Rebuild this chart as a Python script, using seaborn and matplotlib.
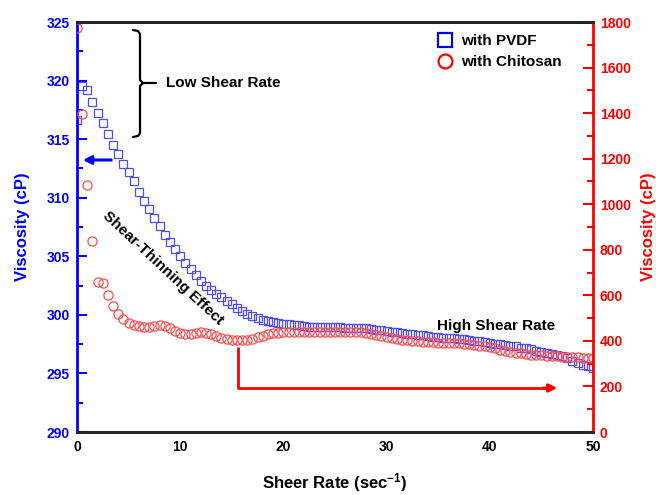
import numpy as np
import pandas as pd
import matplotlib
matplotlib.use("Agg")
import matplotlib.pyplot as plt
import seaborn as sns
from matplotlib.ticker import MultipleLocator, FuncFormatter
from matplotlib.lines import Line2D

sns.set_style("white")
plt.rcParams['font.family'] = ['Liberation Sans', 'DejaVu Sans']
plt.rcParams['text.color'] = 'black'
plt.rcParams['axes.labelcolor'] = 'black'
plt.rcParams['mathtext.fontset'] = 'custom'
plt.rcParams['mathtext.rm'] = 'Liberation Sans'
plt.rcParams['mathtext.bf'] = 'Liberation Sans:bold'
plt.rcParams['mathtext.default'] = 'bf'

shear_rate = np.arange(0, 50.5, 0.5)

pvdf = [316.6, 319.5, 319.2, 318.2, 317.2, 316.4, 315.4, 314.5, 313.7, 312.9,
        312.2, 311.4, 310.5, 309.7, 309.0, 308.3, 307.6, 306.8, 306.2, 305.6,
        305.0, 304.4, 303.9, 303.4, 302.9, 302.5, 302.1, 301.8, 301.5, 301.2,
        300.9, 300.6, 300.3, 300.1, 299.9, 299.75, 299.6, 299.5, 299.4, 299.3,
        299.25, 299.2, 299.15, 299.1, 299.05, 299.0, 299.0, 299.0, 299.0, 298.95,
        298.95, 298.95, 298.9, 298.9, 298.9, 298.9, 298.85, 298.8, 298.75, 298.7,
        298.6, 298.55, 298.5, 298.45, 298.4, 298.35, 298.3, 298.25, 298.2, 298.15,
        298.1, 298.05, 298.0, 298.0, 297.95, 297.9, 297.85, 297.8, 297.75, 297.7,
        297.6, 297.55, 297.5, 297.45, 297.35, 297.3, 297.2, 297.15, 297.05, 296.95,
        296.85, 296.75, 296.65, 296.55, 296.45, 296.3, 296.1, 295.9, 295.7, 295.6,
        295.5]

chitosan = [1775, 1396, 1084, 840, 660, 656, 601, 555, 518, 495,
            477, 470, 465, 462, 462, 467, 470, 467, 458, 445,
            436, 430, 429, 433, 438, 436, 430, 423, 414, 409,
            405, 402, 402, 405, 410, 416, 423, 430, 433, 436,
            438, 439, 440, 440, 440, 440, 440, 440, 440, 440,
            440, 440, 440, 440, 439, 437, 434, 430, 425, 420,
            416, 412, 409, 406, 403, 400, 398, 396, 394, 393,
            392, 392, 392, 391, 389, 387, 385, 382, 379, 376,
            372, 367, 362, 357, 353, 349, 346, 343, 340, 338,
            336, 334, 333, 332, 331, 330, 329, 328, 326, 325,
            323]

series_labels = ["with PVDF", "with Chitosan"]
x_label = "Sheer Rate (sec$^{-1}$)"
y_label = "Viscosity (cP)"

df = pd.DataFrame({"rate": shear_rate, "pvdf": pvdf, "chitosan": chitosan})

W, H = 656, 495
fig = plt.figure(figsize=(W / 100, H / 100), dpi=100)
L, R, T, B = 77, 593, 22, 432
ax = fig.add_axes([L / W, 1 - B / H, (R - L) / W, (B - T) / H])
ax2 = ax.twinx()

sns.lineplot(data=df, x="rate", y="pvdf", ax=ax, marker="s", linestyle="",
             markersize=5.6, markerfacecolor="none", markeredgecolor="#4d4dff",
             markeredgewidth=0.9, color="#4d4dff")
sns.lineplot(data=df, x="rate", y="chitosan", ax=ax2, marker="o", linestyle="",
             markersize=6.6, markerfacecolor="none", markeredgecolor="#ff4d4d",
             markeredgewidth=0.9, color="#ff4d4d")

ax.set_xlim(0, 50)
ax.set_ylim(290, 325)
ax2.set_ylim(0, 1800)

ax.xaxis.set_major_locator(MultipleLocator(5))
ax.xaxis.set_minor_locator(MultipleLocator(2.5))
ax.xaxis.set_major_formatter(FuncFormatter(lambda v, p: f"{int(round(v))}" if round(v) % 10 == 0 else ""))
ax.yaxis.set_major_locator(MultipleLocator(5))
ax.yaxis.set_minor_locator(MultipleLocator(2.5))
ax2.yaxis.set_major_locator(MultipleLocator(200))
ax2.yaxis.set_minor_locator(MultipleLocator(100))

lw = 2.0
for a in (ax, ax2):
    for s in a.spines.values():
        s.set_linewidth(lw)
        s.set_visible(True)
ax.spines['left'].set_color('blue')
ax.spines['right'].set_visible(False)
ax2.spines['left'].set_visible(False)
ax2.spines['right'].set_color('red')
ax.spines['top'].set_color('black')
ax.spines['bottom'].set_color('black')

ax.tick_params(axis='x', which='both', direction='in', colors='black', width=1.5, labelsize=10, pad=6)
ax.tick_params(axis='x', which='major', length=7)
ax.tick_params(axis='x', which='minor', length=4)
ax.tick_params(axis='y', which='both', direction='in', colors='blue', width=1.5, labelsize=10, pad=5)
ax.tick_params(axis='y', which='major', length=7)
ax.tick_params(axis='y', which='minor', length=4)
ax2.tick_params(axis='y', which='both', direction='in', colors='red', width=1.5, labelsize=10, pad=5)
ax2.tick_params(axis='y', which='major', length=7)
ax2.tick_params(axis='y', which='minor', length=4)
for lab in ax.get_xticklabels() + ax.get_yticklabels() + ax2.get_yticklabels():
    lab.set_fontweight('bold')

ax.set_xlabel(x_label, fontsize=12, fontweight='bold', color='black', labelpad=12)
ax.set_ylabel(y_label, fontsize=12, fontweight='bold', color='blue', labelpad=12)
ax2.set_ylabel(y_label, fontsize=12, fontweight='bold', color='red', labelpad=7)

# annotations in axes-fraction coordinates converted from figure pixels
def fx(px):
    return (px - L) / (R - L)

def fy(py):
    return (B - py) / (B - T)

tr = ax2.transAxes
bx = [133, 138, 140, 140, 143, 140, 140, 138, 133]
by = [30, 31, 34, 80, 83, 86, 133, 136, 137]
ax2.plot([fx(v) for v in bx], [fy(v) for v in by], transform=tr, color='black', lw=1.6, clip_on=False)
ax2.plot([fx(142), fx(156)], [fy(83), fy(83)], transform=tr, color='black', lw=1.6)
ax2.text(fx(166), fy(83), "Low Shear Rate", transform=tr, fontsize=11, fontweight='bold',
         ha='left', va='center')

ax2.annotate("", xy=(fx(80), fy(160)), xytext=(fx(114), fy(160)), xycoords=tr, textcoords=tr,
             arrowprops=dict(arrowstyle='-|>', color='blue', lw=2.2, mutation_scale=12))

ax2.text(fx(163), fy(268), "Shear-Thinning Effect", transform=tr, fontsize=11, fontweight='bold',
         ha='center', va='center', rotation=-43, rotation_mode='anchor')

ax2.plot([fx(238), fx(238), fx(548)], [fy(348), fy(388), fy(388)], transform=tr, color='red', lw=2.0)
ax2.annotate("", xy=(fx(560), fy(388)), xytext=(fx(540), fy(388)), xycoords=tr, textcoords=tr,
             arrowprops=dict(arrowstyle='-|>', color='red', lw=2.0, mutation_scale=12))

ax2.text(fx(496), fy(326), "High Shear Rate", transform=tr, fontsize=11, fontweight='bold',
         ha='center', va='center')

handles = [Line2D([], [], marker='s', linestyle='', markersize=10, markerfacecolor='none',
                  markeredgecolor='blue', markeredgewidth=1.6),
           Line2D([], [], marker='o', linestyle='', markersize=10, markerfacecolor='none',
                  markeredgecolor='red', markeredgewidth=1.6)]
leg = ax2.legend(handles, series_labels, loc='upper left', bbox_to_anchor=(fx(436), fy(34)),
                 frameon=False, prop={'weight': 'bold', 'size': 11}, handlelength=1.2,
                 handletextpad=0.45, labelspacing=0.45, borderaxespad=0, borderpad=0)

fig.savefig("out.png", dpi=100)
